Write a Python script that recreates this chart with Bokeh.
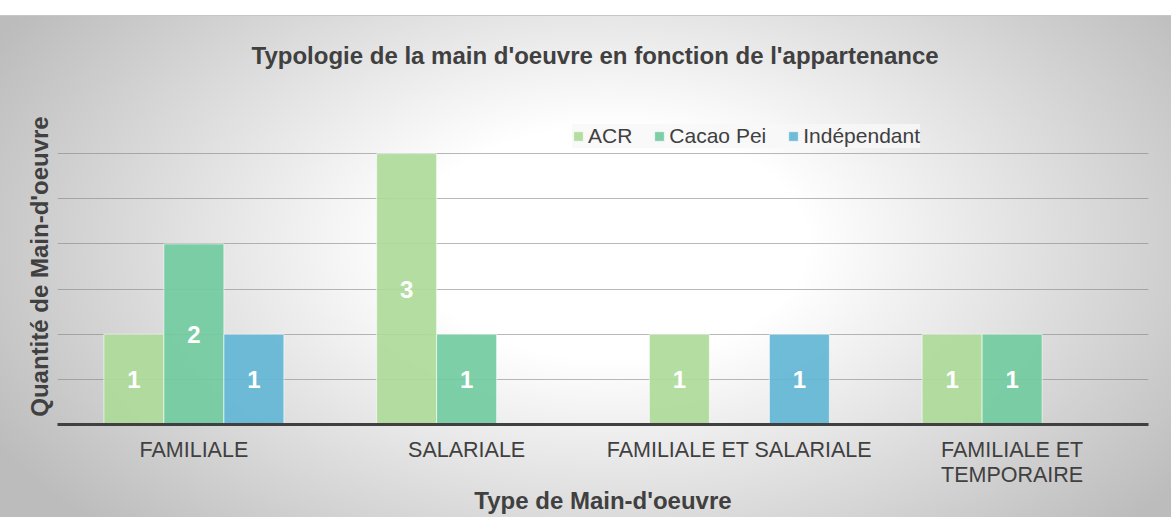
from bokeh.plotting import figure
from bokeh.models import ColumnDataSource, FixedTicker, Legend, LegendItem, CategoricalAxis, FactorRange
from bokeh.transform import dodge
from bokeh.embed import file_html
from bokeh.resources import INLINE
from bokeh.core.properties import value

# ---- data ----
categories = ["FAMILIALE", "SALARIALE", "FAMILIALE ET SALARIALE", "FAMILIALE ET TEMPORAIRE"]
# tick labels as shown on the chart (the last one wraps on two lines)
category_tick_labels = ["FAMILIALE", "SALARIALE", "FAMILIALE ET SALARIALE", "FAMILIALE ET\nTEMPORAIRE"]
series_names = ["ACR", "Cacao Pei", "Indépendant"]
acr = [1, 3, 1, 1]
cacao_pei = [2, 1, 0, 1]
independant = [1, 0, 1, 0]
y_grid_ticks = [0.5, 1.0, 1.5, 2.0, 2.5, 3.0, 3.5]
y_max = 3.5

title_text = "Typologie de la main d'oeuvre en fonction de l'appartenance"
x_title = "Type de Main-d'oeuvre"
y_title = "Quantité de Main-d'oeuvre"

# ---- styles ----
colors = ["#aedb99", "#72cba0", "#63b6d5"]
offsets = [-0.22, 0.0, 0.22]
bar_width = 0.22
FONT = "Liberation Sans"
TXT = "#404040"

p = figure(
    x_range=FactorRange(factors=categories), y_range=(0, y_max),
    width=1171, height=517,
    output_backend="svg", toolbar_location=None,
    x_axis_location=None,
    min_border_left=57, min_border_right=23, min_border_top=108, min_border_bottom=93,
)
p.extra_x_ranges = {"ticklabels": FactorRange(factors=category_tick_labels)}
p.styles = {
    "background": (
        "linear-gradient(#ffffff,#ffffff) 0 0 / 100% 15px no-repeat, "
        "linear-gradient(#c6c6c6,#c6c6c6) 0 15px / 100% 1px no-repeat, "
        "radial-gradient(60% 80% at 52% 47%, #ffffff 0%, #ffffff 28%, #bcbcbc 100%)"
    ),
}
p.background_fill_color = None
p.border_fill_color = None
p.outline_line_color = None

# title
p.title.text = title_text
p.title.text_font = FONT
p.title.text_font_size = "24px"
p.title.text_font_style = "bold"
p.title.text_color = TXT
p.title.align = "left"
p.title.vertical_align = "top"
p.title.offset = 194
p.title.standoff = 76

# bars + labels
all_series = [acr, cacao_pei, independant]
items = []
for name, vals, col, off in zip(series_names, all_series, colors, offsets):
    cats = [c for c, v in zip(categories, vals) if v]
    vv = [v for v in vals if v]
    src = ColumnDataSource(dict(cat=cats, val=vv, half=[v / 2 for v in vv], lbl=[str(v) for v in vv]))
    r = p.vbar(x=dodge("cat", off, range=p.x_range), top="val", width=bar_width, source=src,
               fill_color=col, fill_alpha=0.92, line_color="white", line_alpha=0.6, line_width=1)
    p.text(x=dodge("cat", off, range=p.x_range), y="half", text="lbl", source=src,
           text_color="white", text_font=value(FONT), text_font_style="bold",
           text_font_size="24px", text_align="center", text_baseline="middle")
    items.append(LegendItem(label=name, renderers=[r]))

legend = Legend(items=items, orientation="horizontal", location=(515, 276))
legend.label_text_font = FONT
legend.label_text_font_size = "21px"
legend.label_text_color = TXT
legend.label_height = 23
legend.glyph_width = 12
legend.glyph_height = 12
legend.label_standoff = 4
legend.spacing = 21
legend.padding = 6
legend.margin = 0
legend.background_fill_color = "#f7f7f7"
legend.background_fill_alpha = 0.8
legend.border_line_color = None
p.add_layout(legend)

# grid
p.xgrid.grid_line_color = None
p.ygrid.ticker = FixedTicker(ticks=y_grid_ticks)
p.ygrid.grid_line_color = "#7f7f7f"
p.ygrid.grid_line_alpha = 0.55
p.ygrid.grid_line_width = 1

# x axis
xa = CategoricalAxis(x_range_name="ticklabels")
xa.axis_line_color = TXT
xa.axis_line_width = 3
xa.major_tick_line_color = None
xa.minor_tick_line_color = None
xa.major_tick_out = 0
xa.major_tick_in = 0
xa.major_label_text_font = FONT
xa.major_label_text_font_size = "21.5px"
xa.major_label_text_color = TXT
xa.major_label_text_line_height = 1.07
xa.major_label_standoff = 13
xa.axis_label = x_title
xa.axis_label_text_font = FONT
xa.axis_label_text_font_size = "24px"
xa.axis_label_text_font_style = "bold"
xa.axis_label_text_color = TXT
xa.axis_label_standoff = -3
p.add_layout(xa, "below")

# y axis (label only)
ya = p.yaxis[0]
ya.ticker = FixedTicker(ticks=[])
ya.axis_line_color = None
ya.major_tick_line_color = None
ya.minor_tick_line_color = None
ya.major_tick_out = 0
ya.minor_tick_out = 0
ya.major_label_text_font_size = "0px"
ya.major_label_standoff = 0
ya.axis_label = y_title
ya.axis_label_text_font = FONT
ya.axis_label_text_font_size = "24px"
ya.axis_label_text_font_style = "bold"
ya.axis_label_text_color = TXT
ya.axis_label_standoff = 5

open("out.html", "w").write(file_html(p, INLINE))
